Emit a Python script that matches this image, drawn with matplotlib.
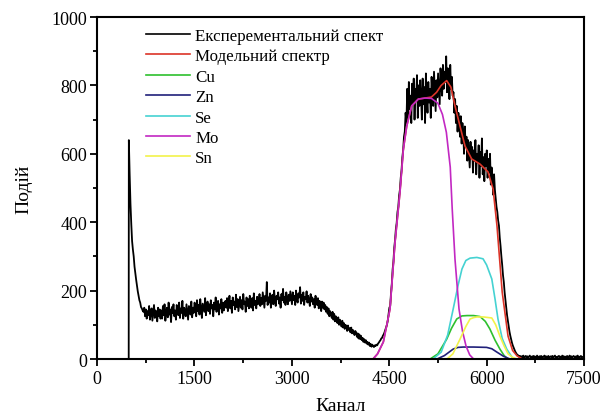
import numpy as np
import matplotlib
matplotlib.use("Agg")
import matplotlib.pyplot as plt
from matplotlib.ticker import MultipleLocator

plt.rcParams['font.family'] = ['Liberation Serif', 'DejaVu Serif']

exp_start = 490
exp_step = 12.5
exp_rows = [
    [640, 540, 455, 395, 345, 320, 300, 270, 250, 232, 215, 198, 185, 172, 165, 152, 148, 142, 138, 150,
     125, 145, 118, 140, 128, 155, 115, 138, 148, 112, 135, 158, 120, 142, 130, 110, 150, 125, 145, 118],
    [142, 118, 155, 128, 160, 112, 138, 150, 122, 165, 130, 145, 108, 152, 135, 160, 125, 142, 115, 158,
     138, 128, 165, 120, 148, 135, 170, 118, 150, 142, 125, 160, 138, 115, 155, 145, 130, 168, 122, 150],
    [135, 165, 148, 125, 172, 140, 158, 130, 175, 145, 120, 162, 150, 138, 178, 128, 155, 168, 140, 160,
     132, 172, 148, 158, 125, 165, 145, 180, 138, 152, 170, 130, 160, 148, 175, 135, 165, 142, 158, 170],
    [150, 178, 140, 165, 185, 148, 170, 135, 180, 158, 168, 145, 188, 152, 175, 140, 162, 182, 150, 172,
     145, 190, 160, 168, 138, 180, 155, 175, 148, 185, 165, 150, 178, 142, 192, 158, 170, 148, 182, 160],
    [168, 190, 155, 178, 160, 195, 172, 150, 185, 170, 225, 158, 180, 165, 192, 150, 178, 188, 160, 200,
     170, 155, 185, 175, 195, 162, 180, 150, 190, 172, 205, 165, 182, 158, 195, 175, 160, 188, 170, 198],
    [178, 160, 195, 172, 185, 158, 200, 175, 165, 192, 180, 210, 162, 188, 170, 195, 158, 182, 175, 198,
     165, 185, 172, 155, 190, 168, 180, 160, 175, 150, 185, 165, 158, 178, 148, 170, 160, 140, 168, 150],
    [165, 145, 158, 138, 152, 132, 148, 125, 140, 130, 120, 138, 115, 132, 110, 125, 118, 105, 122, 100,
     115, 108, 95, 112, 92, 105, 88, 100, 95, 82, 98, 85, 90, 78, 92, 75, 85, 80, 70, 82],
    [78, 65, 75, 60, 72, 58, 68, 55, 62, 50, 58, 48, 55, 45, 50, 42, 48, 38, 44, 36,
     42, 38, 35, 40, 38, 42, 40, 45, 48, 52, 55, 60, 62, 68, 72, 78, 85, 92, 100, 112],
    [132, 150, 155, 192, 220, 262, 285, 325, 348, 380, 398, 430, 445, 478, 495, 530, 552, 590, 612, 650,
     665, 720, 690, 790, 700, 810, 730, 770, 690, 805, 745, 820, 700, 790, 760, 830, 705, 800, 740, 815],
    [770, 700, 820, 745, 795, 690, 835, 760, 720, 810, 750, 790, 705, 825, 770, 740, 840, 780, 725, 815,
     765, 835, 790, 745, 850, 800, 770, 860, 790, 840, 810, 885, 780, 850, 820, 760, 860, 790, 825, 770],
    [780, 720, 760, 690, 740, 665, 720, 700, 650, 710, 630, 690, 660, 600, 680, 620, 650, 580, 640, 600,
     560, 635, 590, 620, 545, 610, 580, 640, 540, 600, 575, 625, 530, 605, 565, 645, 540, 590, 520, 600],
    [565, 610, 530, 585, 545, 600, 510, 560, 530, 480, 540, 495, 470, 445, 430, 405, 390, 355, 330, 300,
     275, 245, 225, 195, 172, 150, 128, 112, 95, 80, 68, 58, 48, 40, 34, 28, 22, 18, 14, 12],
    [10, 6, 9, 4, 8, 5, 10, 3, 7, 9, 5, 8, 4, 7, 10, 5, 3, 8, 6, 9,
     4, 7, 5, 10, 6, 3, 8, 5, 9, 4, 7, 6, 10, 5, 8, 3, 7, 9, 4, 6],
    [8, 5, 9, 4, 7, 10, 5, 6, 3, 8, 9, 5, 7, 4, 10, 6, 8, 3, 7, 5,
     9, 4, 6, 10, 5, 8, 3, 7, 9, 6, 4, 8, 5, 10, 6, 3, 7, 9, 5, 6],
    [7],
]
exp_channels = [0, 488]
exp_counts = [0, 0]
for i, row in enumerate(exp_rows):
    start = exp_start + 500 * i
    exp_channels += list(start + exp_step * np.arange(len(row)))
    exp_counts += row

# ---- model spectrum ----
model_x = [0, 4250, 4320, 4410, 4512, 4590, 4666, 4718, 4770, 4846, 4948, 5050, 5150, 5230, 5300,
           5385, 5450, 5513, 5590, 5667, 5770, 5898, 6022, 6100, 6160, 6240, 6330, 6400, 6470, 6550, 7500]
model_y = [0, 0, 15, 50, 146, 342, 488, 614, 681, 740, 760, 763, 766, 780, 800,
           814, 795, 740, 681, 623, 585, 570, 547, 497, 389, 196, 67, 25, 9, 0, 0]

# ---- components ----
cu_x = [0, 5130, 5250, 5385, 5460, 5540, 5620, 5700, 5800, 5900, 5980, 6050, 6130, 6205, 6270, 6330, 7500]
cu_y = [0, 0, 15, 58, 90, 117, 126, 127, 127, 124, 110, 88, 55, 29, 10, 0, 0]

zn_x = [0, 5236, 5350, 5485, 5560, 5640, 5800, 6000, 6080, 6160, 6260, 6360, 7500]
zn_y = [0, 0, 10, 29, 34, 35, 35, 34, 30, 20, 8, 0, 0]

se_x = [0, 5175, 5300, 5400, 5485, 5560, 5620, 5680, 5745, 5850, 5945, 6000, 6080, 6130, 6175, 6240, 6310, 6410, 7500]
se_y = [0, 0, 20, 70, 146, 215, 263, 288, 295, 297, 293, 275, 234, 175, 117, 60, 29, 0, 0]

mo_x = [0, 4250, 4320, 4410, 4512, 4590, 4666, 4718, 4770, 4846, 4948, 5050, 5150, 5250, 5320,
        5380, 5440, 5470, 5513, 5575, 5630, 5683, 5740, 5800, 7500]
mo_y = [0, 0, 15, 50, 146, 342, 488, 614, 681, 740, 760, 763, 762, 748, 715,
        663, 561, 440, 292, 146, 80, 38, 12, 0, 0]

sn_x = [0, 5390, 5480, 5590, 5680, 5745, 5800, 5850, 5950, 6080, 6140, 6205, 6270, 6330, 6400, 6470, 7500]
sn_y = [0, 0, 15, 58, 95, 117, 121, 123, 123, 120, 100, 67, 38, 15, 5, 0, 0]

labels = ["Експерементальний спект", "Модельний спектр", "Cu", "Zn", "Se", "Mo", "Sn"]
colors = ["black", "#dc3428", "#2ec02e", "#20207a", "#45d2d2", "#c228c2", "#f2f24a"]

fig = plt.figure(figsize=(6.03, 4.14), dpi=100)
ax = fig.add_axes([0.1609, 0.1304, 0.8076, 0.8261])

series = [(exp_channels, exp_counts), (model_x, model_y), (cu_x, cu_y), (zn_x, zn_y),
          (se_x, se_y), (mo_x, mo_y), (sn_x, sn_y)]
for (xs, ys), lab, col in zip(series, labels, colors):
    ax.plot(xs, ys, color=col, lw=1.2 if lab != labels[0] else 1.3, label=lab)

ax.set_xlim(0, 7500)
ax.set_ylim(0, 1000)
ax.xaxis.set_major_locator(MultipleLocator(1500))
ax.xaxis.set_minor_locator(MultipleLocator(750))
ax.yaxis.set_major_locator(MultipleLocator(200))
ax.yaxis.set_minor_locator(MultipleLocator(100))
ax.tick_params(which='major', direction='out', length=5, width=1.3, labelsize=13)
ax.tick_params(which='minor', direction='out', length=3, width=1.3)
ax.tick_params(axis='x', pad=3)
ax.tick_params(axis='y', pad=2)
for s in ax.spines.values():
    s.set_linewidth(1.5)

ax.set_xlabel("Канал", fontsize=14, labelpad=7)
ax.set_ylabel("Подій", fontsize=14, labelpad=14)

leg = ax.legend(loc='upper left', bbox_to_anchor=(0.101, 0.968), frameon=False,
                fontsize=12.2, handlelength=2.6, handletextpad=0.3, labelspacing=0.26,
                borderpad=0, borderaxespad=0)
for h in leg.get_lines():
    h.set_linewidth(1.2)

fig.savefig("out.png", dpi=100)
